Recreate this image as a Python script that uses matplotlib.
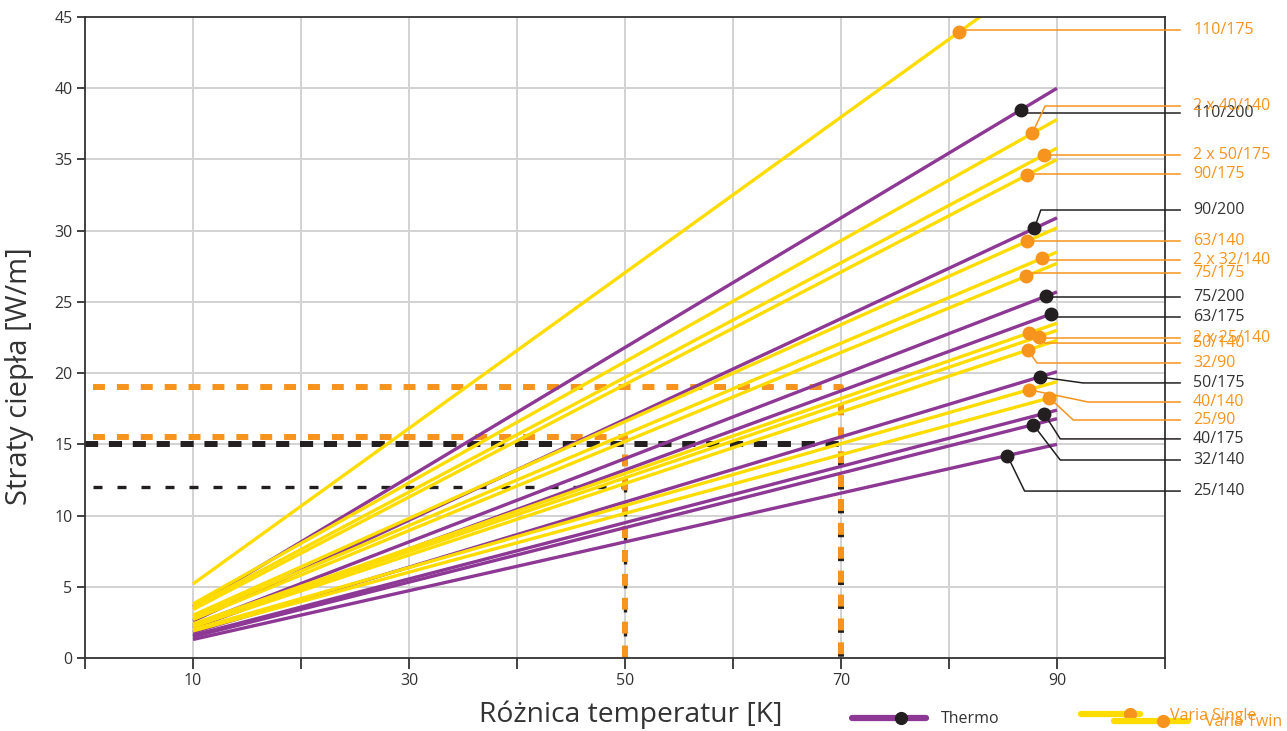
import numpy as np
import matplotlib
matplotlib.use("Agg")
from matplotlib import pyplot as plt
from matplotlib.lines import Line2D

plt.rcParams['font.family'] = ['Open Sans', 'DejaVu Sans']

# ---- data: heat loss lines from dT=10 K to dT=90 K ----
dT_start = 10
dT_end = 90

thermo_names = ['110/200', '90/200', '75/200', '63/175', '50/175', '40/175', '32/140', '25/140']
thermo_q10 = [3.6, 2.6, 2.3, 2.1, 1.8, 1.6, 1.5, 1.3]
thermo_q90 = [40.0, 30.9, 25.7, 24.3, 20.1, 17.4, 16.8, 15.0]

varia_names = ['110/175', '2 x 40/140', '2 x 50/175', '90/175', '63/140', '2 x 32/140',
               '75/175', '2 x 25/140', '50/140', '32/90', '40/140', '25/90']
varia_q10 = [5.2, 3.8, 3.6, 3.4, 3.0, 2.9, 2.7, 2.3, 2.4, 2.2, 2.0, 1.9]
varia_q90 = [48.9, 37.8, 35.8, 35.0, 30.2, 28.5, 27.7, 23.0, 23.5, 22.3, 19.4, 18.4]

# reading examples (dashed guides)
guide_thermo = [(50, 12.0), (70, 15.0)]
guide_varia = [(50, 15.5), (70, 19.0)]

# ---- label layout (dot x, bend x, label y) ----
thermo_dot_x = [86.7, 87.9, 89.0, 89.4, 88.4, 88.8, 87.8, 85.4]
thermo_bend_x = [86.7, 88.5, 89.0, 89.4, 92.4, 90.3, 90.3, 87.0]
thermo_label_y = [38.26, 31.45, 25.34, 23.94, 19.31, 15.38, 13.90, 11.72]

varia_dot_x = [80.9, 87.7, 88.8, 87.2, 87.2, 88.6, 87.1, 88.3, 87.4, 87.3, 87.4, 89.3]
varia_bend_x = [80.9, 88.9, 88.8, 87.2, 87.2, 88.6, 87.1, 88.3, 88.9, 88.15, 92.9, 91.5]
varia_label_y = [44.09, 38.75, 35.31, 33.98, 29.28, 27.94, 27.03, 22.47, 22.11, 20.71, 17.97, 16.71]

purple = '#8d3894'
yellow = '#ffdc00'
orange = '#f7941d'
black = '#231f20'
grey = '#d2d2d2'
text_dark = '#333333'

W, H = 1287, 731
fig = plt.figure(figsize=(W / 100, H / 100), dpi=100)
ax = fig.add_axes([85 / W, (H - 658) / H, (1165 - 85) / W, (658 - 17) / H])
ax.set_xlim(0, 100)
ax.set_ylim(0, 45)

# grid
for gx in range(10, 100, 10):
    ax.axvline(gx, color=grey, lw=1.4, zorder=0)
for gy in range(5, 45, 5):
    ax.axhline(gy, color=grey, lw=1.4, zorder=0)

# dashed guides
x_start = 0.7
for (gx, gy) in guide_thermo:
    lw = 4.3 if gy >= 15 else 2.4
    ax.plot([0 if gy >= 15 else x_start, gx, gx], [gy, gy, 0], color=black, lw=lw,
            linestyle=(0, (2.2, 1.8)) if gy >= 15 else (0, (2.7, 4.5)),
            solid_capstyle='butt', dash_capstyle='butt', zorder=1)
for (gx, gy) in guide_varia:
    ax.plot([x_start, gx, gx], [gy, gy, 0], color=orange, lw=4.3,
            linestyle=(0, (2.0, 2.0)), dash_capstyle='butt', zorder=1.5)


def q_at(x, q10, q90):
    return q10 + (q90 - q10) * (x - dT_start) / (dT_end - dT_start)


# series lines
for q10, q90 in zip(thermo_q10, thermo_q90):
    ax.plot([dT_start, dT_end], [q10, q90], color=purple, lw=2.4, zorder=2,
            solid_capstyle='butt')
for q10, q90 in zip(varia_q10, varia_q90):
    ax.plot([dT_start, dT_end], [q10, q90], color=yellow, lw=2.4, zorder=2,
            solid_capstyle='butt')

# labels with leaders
x_lead_end = 101.4
x_text = 102.6
for i, name in enumerate(thermo_names):
    dx = thermo_dot_x[i]
    dy = q_at(dx, thermo_q10[i], thermo_q90[i])
    ly = thermo_label_y[i]
    bx = thermo_bend_x[i]
    ax.plot([dx, bx, x_lead_end], [dy, ly, ly], color=black, lw=1.1, zorder=3, clip_on=False)
    ax.plot(dx, dy, 'o', color=black, ms=9, zorder=4, clip_on=False)
    ax.text(x_text, ly, name, color=text_dark, fontsize=11.5, va='center', ha='left')
for i, name in enumerate(varia_names):
    dx = varia_dot_x[i]
    dy = q_at(dx, varia_q10[i], varia_q90[i])
    ly = varia_label_y[i]
    bx = varia_bend_x[i]
    ax.plot([dx, bx, x_lead_end], [dy, ly, ly], color=orange, lw=1.1, zorder=3, clip_on=False)
    ax.plot(dx, dy, 'o', color=orange, ms=9, zorder=4, clip_on=False)
    ax.text(x_text, ly, name, color=orange, fontsize=11.5, va='center', ha='left')

# axes styling
ax.set_xticks(range(0, 101, 10))
ax.set_xticklabels(['' if t % 20 == 0 else str(t) for t in range(0, 101, 10)])
ax.set_yticks(range(0, 46, 5))
ax.tick_params(axis='x', direction='out', length=8, width=1.3, colors=text_dark,
               labelsize=11.5, pad=3)
ax.tick_params(axis='y', direction='out', length=6, width=1.3, colors=text_dark,
               labelsize=11.5, pad=3)
for s in ax.spines.values():
    s.set_color(text_dark)
    s.set_linewidth(1.3)

ax.set_ylabel('Straty ciepła [W/m]', fontsize=21, color=text_dark)
ax.yaxis.set_label_coords(-0.047, 0.44)
fig.text(631 / W, 1 - 715 / H, 'Różnica temperatur [K]', fontsize=20.3, color=text_dark,
         ha='center', va='center')


# legend
def px(x, y):
    return x / W, 1 - y / H


def legend_item(x0, x1, xdot, y, lcolor, dcolor, label, tx, ty, tcolor):
    (a, b), (c, d) = px(x0, y), px(x1, y)
    fig.add_artist(Line2D([a, c], [b, d], color=lcolor, lw=4.5, solid_capstyle='round'))
    e, f = px(xdot, y)
    fig.add_artist(Line2D([e], [f], marker='o', color=dcolor, ms=8.5))
    g, h = px(tx, ty)
    fig.text(g, h, label, color=tcolor, fontsize=11.5, va='center', ha='left')


legend_item(852, 926, 901, 718, purple, black, 'Thermo', 941, 719, text_dark)
legend_item(1081, 1140, 1130, 714, yellow, orange, 'Varia Single', 1170, 716, orange)
legend_item(1114, 1188, 1163, 721, yellow, orange, 'Varia Twin', 1205, 722, orange)

fig.savefig('out.png', dpi=100)
